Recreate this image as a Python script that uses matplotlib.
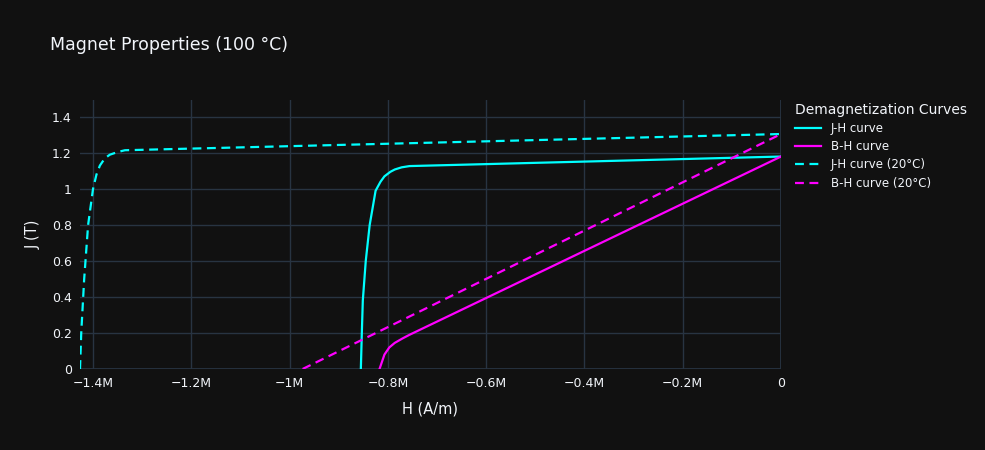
import matplotlib.pyplot as plt
from matplotlib.ticker import FuncFormatter

# 100 °C curves (H in MA/m, J in T)
jh_h = [-0.855, -0.853, -0.851, -0.845, -0.837, -0.825, -0.815, -0.807, -0.795, -0.786, -0.772, -0.756, 0.0]
jh_j = [0.0, 0.2, 0.38, 0.6, 0.8, 0.99, 1.04, 1.07, 1.095, 1.108, 1.12, 1.127, 1.18]
bh_h = [-0.817, -0.812, -0.807, -0.797, -0.786, -0.770, -0.756, 0.0]
bh_j = [0.0, 0.04, 0.08, 0.12, 0.145, 0.17, 0.19, 1.18]

# 20 °C curves
jh20_h = [-1.4265, -1.424, -1.418, -1.41, -1.40, -1.393, -1.386, -1.376, -1.366, -1.35, -1.335, 0.0]
jh20_j = [0.0, 0.2, 0.5, 0.8, 1.0, 1.08, 1.13, 1.17, 1.19, 1.205, 1.215, 1.305]
bh20_h = [-0.9735, 0.0]
bh20_j = [0.0, 1.305]

BG = "#111111"
GRID = "#283442"
TXT = "#f2f5fa"
CYAN = "#00ffff"
MAG = "#ff00ff"

plt.rcParams["font.family"] = ["DejaVu Sans"]
fig = plt.figure(figsize=(9.85, 4.5), dpi=100, facecolor=BG)
ax = fig.add_axes([80 / 985, 81 / 450, 701 / 985, 269 / 450], facecolor=BG)

ax.plot(jh_h, jh_j, color=CYAN, lw=1.6, label="J-H curve")
ax.plot(bh_h, bh_j, color=MAG, lw=1.6, label="B-H curve")
ax.plot(jh20_h, jh20_j, color=CYAN, lw=1.6, ls=(0, (4, 2.5)), label="J-H curve (20°C)")
ax.plot(bh20_h, bh20_j, color=MAG, lw=1.6, ls=(0, (4, 2.5)), label="B-H curve (20°C)")

ax.set_xlim(-1.4265, 0)
ax.set_ylim(0, 1.494)
ax.set_xticks([-1.4, -1.2, -1.0, -0.8, -0.6, -0.4, -0.2, 0])
ax.set_yticks([0, 0.2, 0.4, 0.6, 0.8, 1.0, 1.2, 1.4])


def fmt_x(v, pos):
    if abs(v) < 1e-9:
        return "0"
    s = f"{v:.1f}".rstrip("0").rstrip(".")
    return s.replace("-", "\u2212") + "M"


def fmt_y(v, pos):
    if abs(v) < 1e-9:
        return "0"
    return f"{v:.1f}".rstrip("0").rstrip(".")


ax.xaxis.set_major_formatter(FuncFormatter(fmt_x))
ax.yaxis.set_major_formatter(FuncFormatter(fmt_y))
ax.grid(True, color=GRID, lw=1)
ax.set_axisbelow(True)
for s in ax.spines.values():
    s.set_visible(False)
ax.axhline(0, color=GRID, lw=2, zorder=0)
ax.axvline(0, color=GRID, lw=2, zorder=0)
ax.tick_params(colors=TXT, labelsize=9, length=0, pad=6)
ax.set_xlabel("H (A/m)", color=TXT, fontsize=10.5, labelpad=8)
ax.set_ylabel("J (T)", color=TXT, fontsize=10.5, labelpad=8)

fig.text(50 / 985, 1 - 45 / 450, "Magnet Properties (100 °C)", color=TXT, fontsize=12.5, va="center")

leg = ax.legend(loc="upper left", bbox_to_anchor=(1.005, 1.03), frameon=False,
                title="Demagnetization Curves", fontsize=8.5, title_fontsize=10,
                handlelength=2.2, labelspacing=0.45, alignment="left")
for t in leg.get_texts():
    t.set_color(TXT)
leg.get_title().set_color(TXT)

fig.savefig("out.png", dpi=100, facecolor=BG)
